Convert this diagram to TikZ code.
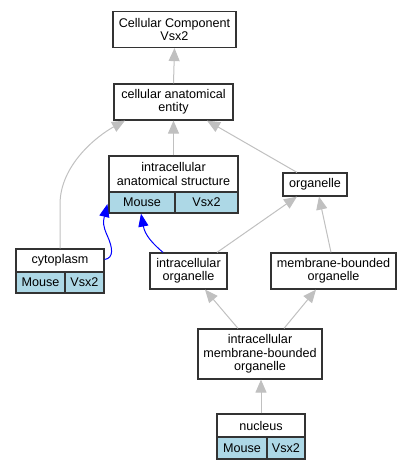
\documentclass[tikz,border=0pt]{standalone}
\usepackage{fontspec}
\setmainfont{Liberation Sans}
\usetikzlibrary{arrows.meta,calc}
\definecolor{cellblue}{HTML}{ADD8E6}
\definecolor{edgegray}{HTML}{C0C0C0}
\begin{document}
\begin{tikzpicture}[x=1pt,y=-1pt,
  box/.style={draw=black!80, line width=1.2pt, fill=white, inner sep=0pt, align=center,
    font=\fontsize{12.6}{13.3}\selectfont},
  cell/.style={box, fill=cellblue},
  sz/.style 2 args={minimum width=#1pt, minimum height=#2pt},
  gedge/.style={draw=edgegray, line width=1pt, -{Triangle[length=13pt,width=11pt]}},
  bedge/.style={draw=blue, line width=1pt, -{Triangle[length=13pt,width=10pt]}}]
\useasboundingbox (0,0) rectangle (411,469);
% nodes
\node[box, sz={123}{36}] (cc) at (174.5,29.5) {Cellular Component\\Vsx2};
\node[box, sz={119}{36}] (cae) at (173.5,102) {cellular anatomical\\entity};
\node[box, sz={129}{36}] (ias) at (173.5,174) {intracellular\\anatomical structure};
\node[cell, sz={66}{21}] (iasm) at (142,202.5) {Mouse};
\node[cell, sz={63}{21}] (iasv) at (206.5,202.5) {Vsx2};
\node[box, sz={64}{23}] (org) at (315,184.5) {organelle};
\node[box, sz={88}{23}] (cyto) at (60,260.5) {cytoplasm};
\node[cell, sz={49}{21}] (cytom) at (40.5,282.5) {Mouse};
\node[cell, sz={39}{21}] (cytov) at (84.5,282.5) {Vsx2};
\node[box, sz={77}{36}] (io) at (188.5,271) {intracellular\\organelle};
\node[box, sz={125}{36}] (mbo) at (333.5,271) {membrane-bounded\\organelle};
\node[box, sz={124}{50}] (imbo) at (260,354) {intracellular\\membrane-bounded\\organelle};
\node[box, sz={88}{23}] (nuc) at (261,425.5) {nucleus};
\node[cell, sz={50}{22}] (nucm) at (242,448) {Mouse};
\node[cell, sz={38}{22}] (nucv) at (286,448) {Vsx2};
% edges
\draw[gedge] (cae.north) -- (cc.south);
\draw[gedge] (ias.north) -- (cae.south);
\draw[gedge] ($(org.north)+(-18,0)$) -- ($(cae.south)+(33.5,0)$);
\draw[gedge] (cyto.north) -- ++(0,-44) .. controls (60,165) and (97,136) .. ($(cae.south)+(-48.5,0)$);
\draw[bedge] ($(cyto.east)+(0,-1)$) .. controls (114,258) and (113,248) .. (107,235)
   .. controls (103,226) and (103,222) .. ($(iasm.west)+(-1,1.5)$);
\draw[bedge] ($(io.north)+(-25.5,0)$) .. controls (152,243) and (145,235) .. ($(iasm.south)+(-1,0)$);
\draw[gedge] ($(io.north)+(28.5,0)$) -- ($(org.south)+(-18,0)$);
\draw[gedge] ($(mbo.north)+(-2.5,0)$) -- ($(org.south)+(4,0)$);
\draw[gedge] ($(imbo.north)+(-22,0)$) -- ($(io.south)+(16.5,0)$);
\draw[gedge] ($(imbo.north)+(24,0)$) -- ($(mbo.south)+(-17.5,0)$);
\draw[gedge] (nuc.north) -- (nuc.north |- imbo.south);
\end{tikzpicture}
\end{document}
